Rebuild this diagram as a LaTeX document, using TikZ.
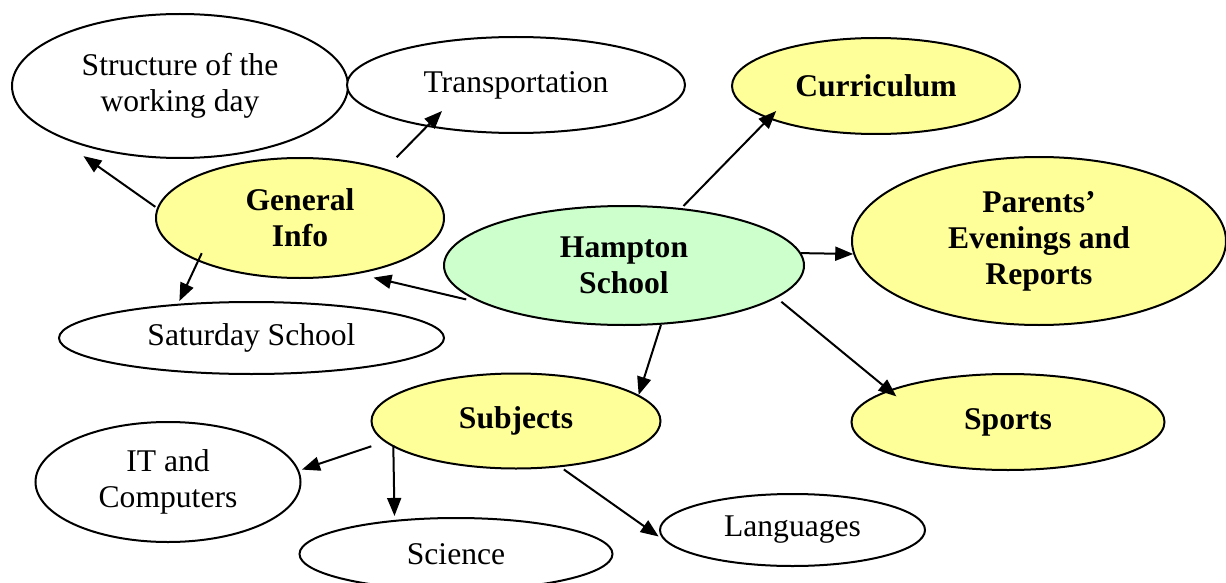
\documentclass[tikz,border=0pt]{standalone}
\usepackage{fontspec}
\setmainfont{Liberation Serif}
\usepackage{tikz}
\usetikzlibrary{arrows.meta,shapes.geometric}

\definecolor{ideayellow}{RGB}{255,255,153}
\definecolor{ideagreen}{RGB}{204,255,204}

\begin{document}
\begin{tikzpicture}[->,>={Triangle[length=18pt,width=14pt]},x=1pt,y=-1pt,
        line width=2pt,
        bubble/.style={ellipse,draw,fill=white,inner sep=0pt,align=center,
          font=\fontsize{31.6}{36}\selectfont},
        topic/.style={bubble,fill=ideayellow,font=\fontsize{31.6}{36}\selectfont\bfseries},
        hub/.style={topic,fill=ideagreen}]

  \useasboundingbox (0,0) rectangle (1226,583);

  \node[hub,minimum width=360pt,minimum height=119pt] (hampton) at (624,265.5) {Hampton\\School};
  \node[topic,minimum width=288pt,minimum height=120pt] (gen) at (300,218) {General\\Info};
  \node[topic,minimum width=288pt,minimum height=96pt] (curric) at (876,86) {Curriculum};
  \node[topic,minimum width=374pt,minimum height=168pt] (parents) at (1039,241) {Parents’\\Evenings and\\Reports};
  \node[topic,minimum width=313pt,minimum height=96pt] (sports) at (1008,422) {Sports};
  \node[topic,minimum width=289pt,minimum height=95pt] (subj) at (516,421) {Subjects};

  \node[bubble,minimum width=336pt,minimum height=144pt] (struct) at (180,86) {Structure of the\\working day};
  \node[bubble,minimum width=338pt,minimum height=96pt] (transp) at (516,85) {Transportation};
  \node[bubble,minimum width=385pt,minimum height=72pt] (satur) at (251.5,338) {Saturday School};
  \node[bubble,minimum width=265pt,minimum height=120pt] (it) at (168,482) {IT and\\Computers};
  \node[bubble,minimum width=313pt,minimum height=72pt] (science) at (456,554) {Science};
  \node[bubble,minimum width=265pt,minimum height=72pt] (lang) at (792.5,530) {Languages};

  \path (gen.176) edge [shorten <=2pt,shorten >=40pt] (struct.200)
        (gen.30) edge [shorten <=16pt,shorten >=-22pt] (transp.205)
        (gen.203) edge [shorten <=-9pt,shorten >=3pt] (satur.155)
        (hampton.195) edge [shorten <=17pt,shorten >=16pt] (gen.316)
        (hampton.45) edge [shorten <=3pt,shorten >=-11pt] (curric.197)
        (hampton.4) edge (parents.184)
        (hampton.348) edge [shorten <=6pt,shorten >=-10pt] (sports.165)
        (hampton.302) edge (subj.12)
        (subj.189) edge [shorten <=14pt,shorten >=3pt] (it.5)
        (subj.192) edge [shorten <=-2pt,shorten >=4pt] (science.151)
        (subj.314) edge [shorten <=4pt,shorten >=8pt] (lang.185);

\end{tikzpicture}
\end{document}
